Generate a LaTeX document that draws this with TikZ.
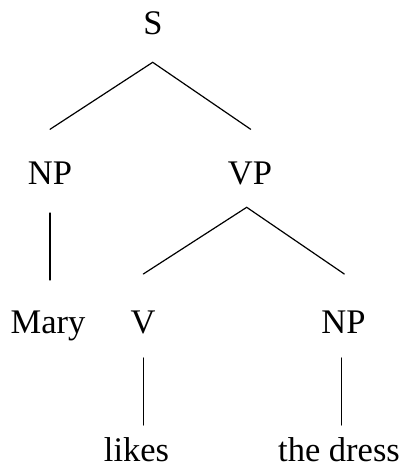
\documentclass[tikz,border=0pt]{standalone}
\usepackage{fontspec}
\setmainfont{Liberation Serif}
\begin{document}
\begin{tikzpicture}[x=1pt,y=-1pt,
  lbl/.style={anchor=base,inner sep=0pt,font=\fontsize{34.5}{40}\selectfont},
  edge/.style={line width=1.2pt,line cap=round}]
\useasboundingbox (0,0) rectangle (403,475);
% category and word labels
\node[lbl] (S)    at (153,34)  {S};
\node[lbl] (NP1)  at (50,184)  {NP};
\node[lbl] (VP)   at (250,184) {VP};
\node[lbl] (Mary) at (48,333)  {Mary};
\node[lbl] (V)    at (143,333) {V};
\node[lbl] (NP2)  at (343.5,333) {NP};
\node[lbl] (likes) at (136.5,461) {likes};
\node[lbl] (dress) at (339,461) {the dress};
% branch end points
\coordinate (sTop)   at (152.7,62.3);
\coordinate (np1Top) at (50,129.3);
\coordinate (vpTop)  at (250.7,129.3);
\coordinate (np1Bot) at (50,213);
\coordinate (maryTop) at (50,280);
\coordinate (vpBot)  at (246.7,207.3);
\coordinate (vTop)   at (143.3,274);
\coordinate (np2Top) at (344.3,274);
\coordinate (vBot)   at (143.3,358);
\coordinate (likesTop) at (143.3,425);
\coordinate (np2Bot) at (341.7,358);
\coordinate (dressTop) at (341.7,425);
% branches
\draw[edge] (np1Top) -- (sTop) -- (vpTop);
\draw[edge] (np1Bot) -- (maryTop);
\draw[edge] (vTop) -- (vpBot) -- (np2Top);
\draw[edge] (vBot) -- (likesTop);
\draw[edge] (np2Bot) -- (dressTop);
\end{tikzpicture}
\end{document}
